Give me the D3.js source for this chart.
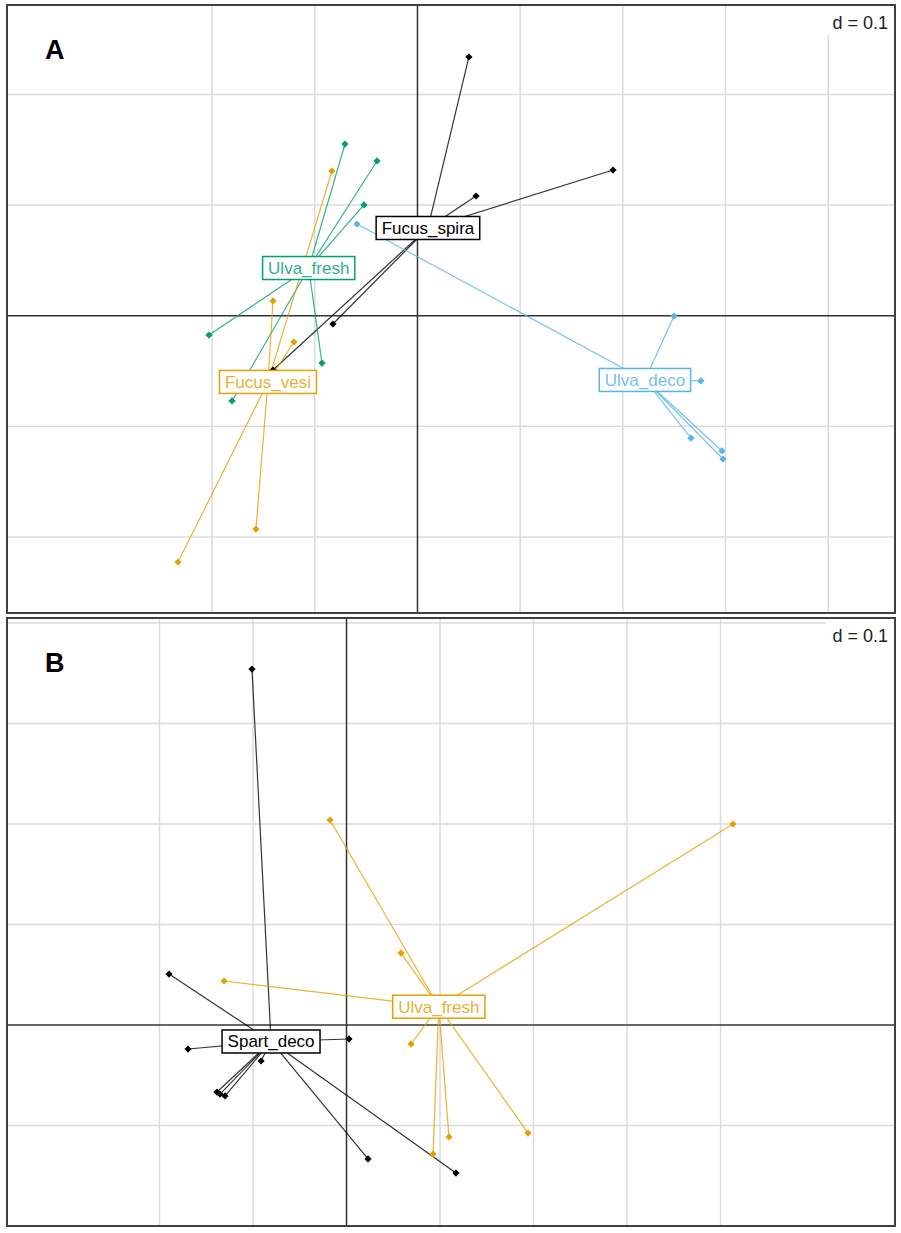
<!DOCTYPE html>
<html>
<head>
<meta charset="utf-8">
<script src="https://cdn.jsdelivr.net/npm/d3@7"></script>
<style>
  body { margin: 0; background: #fff; }
  svg { display: block; font-family: "Liberation Sans", Arial, sans-serif; }
</style>
</head>
<body>
<div id="plot"></div>
<script>
// class scores (d = 0.1 grid units)
const colBlack = "#000000", colTeal = "#009E73", colOrange = "#E69F00", colSky = "#56B4E9";

// panel A
const aLimitsX = [-0.3997, 0.4650];
const aLimitsY = [-0.2688, 0.2809];
const aGridX = [-0.2, -0.1, 0.1, 0.2, 0.3, 0.4];
const aGridY = [-0.2, -0.1, 0.1, 0.2];

const aFucusSpira = [[0.0501, 0.2339], [0.1904, 0.1317], [0.0570, 0.1082], [-0.0823, -0.0075], [-0.1407, -0.0491]];
const aFucusSpiraCentre = [0.0102, 0.0793];
const aUlvaFresh = [[-0.0706, 0.1552], [-0.0394, 0.1399], [-0.0521, 0.1001], [-0.2030, -0.0175], [-0.0930, -0.0428], [-0.1806, -0.0771]];
const aUlvaFreshCentre = [-0.1059, 0.0431];
const aFucusVesi = [[-0.0833, 0.1308], [-0.1407, 0.0133], [-0.1203, -0.0238], [-0.1573, -0.1929], [-0.2332, -0.2227]];
const aFucusVesiCentre = [-0.1456, -0.0599];
const aUlvaDeco = [[0.2498, -0.0003], [0.2760, -0.0590], [0.2663, -0.1106], [0.2965, -0.1223], [0.2975, -0.1296], [-0.0589, 0.0829]];
const aUlvaDecoCentre = [0.2215, -0.0581];

// panel B
const bLimitsX = [-0.3631, 0.5866];
const bLimitsY = [-0.2000, 0.4050];
const bGridX = [-0.2, -0.1, 0.1, 0.2, 0.3, 0.4];
const bGridY = [-0.1, 0.1, 0.2, 0.3, 0.4];

const bSpartDeco = [[-0.1011, 0.3542], [-0.1898, 0.0507], [-0.1695, -0.0239], [0.0027, -0.0139], [-0.0914, -0.0358],
                    [-0.1385, -0.0667], [-0.1353, -0.0687], [-0.1299, -0.0706], [0.0230, -0.1333], [0.1171, -0.1473]];
const bSpartDecoCentre = [-0.0807, -0.0164];
const bUlvaFresh = [[0.4134, 0.2000], [0.0583, 0.0716], [0.0690, -0.0189], [0.1096, -0.1114], [0.1941, -0.1075],
                    [0.0925, -0.1284], [-0.0176, 0.2040], [-0.1310, 0.0438]];
const bUlvaFreshCentre = [0.0987, 0.0182];

const width = 901, height = 1233;

const svg = d3.select("#plot").append("svg")
    .attr("width", width)
    .attr("height", height);

const diamond = d3.symbol().type(d3.symbolSquare).size(26);

function drawPanel(opts) {
    const { top, letter, limX, limY, gridX, gridY, groups } = opts;
    const left = 7, right = 895, bottom = top + 608;

    const x = d3.scaleLinear().domain(limX).range([left, right]);
    const y = d3.scaleLinear().domain(limY).range([bottom, top]);

    const g = svg.append("g");

    // grid
    g.selectAll(".gx").data(gridX).enter().append("line")
        .attr("x1", d => x(d)).attr("x2", d => x(d))
        .attr("y1", top).attr("y2", bottom)
        .attr("stroke", "#dcdcdc").attr("stroke-width", 1.5);
    g.selectAll(".gy").data(gridY).enter().append("line")
        .attr("x1", left).attr("x2", right)
        .attr("y1", d => y(d)).attr("y2", d => y(d))
        .attr("stroke", "#dcdcdc").attr("stroke-width", 1.5);

    // d = 0.1 box hides the grid under it
    g.append("rect")
        .attr("x", right - 69).attr("y", top + 1)
        .attr("width", 68).attr("height", 29)
        .attr("fill", "#fff");
    g.append("text")
        .attr("x", right - 7).attr("y", top + 24)
        .attr("text-anchor", "end")
        .style("font-size", "18px")
        .attr("fill", "#222")
        .text("d = 0.1");

    // axes through origin
    g.append("line")
        .attr("x1", x(0)).attr("x2", x(0)).attr("y1", top).attr("y2", bottom)
        .attr("stroke", "#333").attr("stroke-width", 1.5);
    g.append("line")
        .attr("x1", left).attr("x2", right).attr("y1", y(0)).attr("y2", y(0))
        .attr("stroke", "#333").attr("stroke-width", 1.5);

    // star lines
    groups.forEach(grp => {
        g.selectAll(null).data(grp.pts).enter().append("line")
            .attr("x1", x(grp.centre[0])).attr("y1", y(grp.centre[1]))
            .attr("x2", d => x(d[0])).attr("y2", d => y(d[1]))
            .attr("stroke", grp.color)
            .attr("stroke-opacity", 0.8)
            .attr("stroke-width", 1.2);
    });

    // points
    groups.forEach(grp => {
        g.selectAll(null).data(grp.pts).enter().append("path")
            .attr("d", diamond)
            .attr("transform", d => `translate(${x(d[0])},${y(d[1])}) rotate(45)`)
            .attr("fill", grp.color);
    });

    // class labels at centroids
    groups.forEach(grp => {
        const lg = g.append("g")
            .attr("transform", `translate(${x(grp.centre[0])},${y(grp.centre[1])})`);
        const box = lg.append("rect").attr("fill", "#fff")
            .attr("stroke", grp.color).attr("stroke-width", 1.5);
        const t = lg.append("text")
            .attr("text-anchor", "middle")
            .attr("y", 6)
            .style("font-size", "17px")
            .attr("fill", grp.color)
            .attr("fill-opacity", grp.color === colBlack ? 1 : 0.85)
            .text(grp.name);
        const w = t.node().getComputedTextLength() + 11;
        box.attr("x", -w / 2).attr("y", -11.5).attr("width", w).attr("height", 23);
    });

    // panel letter
    g.append("text")
        .attr("x", left + 38).attr("y", top + 54)
        .style("font-size", "27px")
        .style("font-weight", "bold")
        .text(letter);

    // frame
    g.append("rect")
        .attr("x", left).attr("y", top)
        .attr("width", right - left).attr("height", bottom - top)
        .attr("fill", "none")
        .attr("stroke", "#404040").attr("stroke-width", 2);
}

drawPanel({
    top: 5, letter: "A",
    limX: aLimitsX, limY: aLimitsY, gridX: aGridX, gridY: aGridY,
    groups: [
        { name: "Fucus_spira", color: colBlack, pts: aFucusSpira, centre: aFucusSpiraCentre },
        { name: "Ulva_fresh", color: colTeal, pts: aUlvaFresh, centre: aUlvaFreshCentre },
        { name: "Fucus_vesi", color: colOrange, pts: aFucusVesi, centre: aFucusVesiCentre },
        { name: "Ulva_deco", color: colSky, pts: aUlvaDeco, centre: aUlvaDecoCentre }
    ]
});

drawPanel({
    top: 618, letter: "B",
    limX: bLimitsX, limY: bLimitsY, gridX: bGridX, gridY: bGridY,
    groups: [
        { name: "Spart_deco", color: colBlack, pts: bSpartDeco, centre: bSpartDecoCentre },
        { name: "Ulva_fresh", color: colOrange, pts: bUlvaFresh, centre: bUlvaFreshCentre }
    ]
});
</script>
</body>
</html>
